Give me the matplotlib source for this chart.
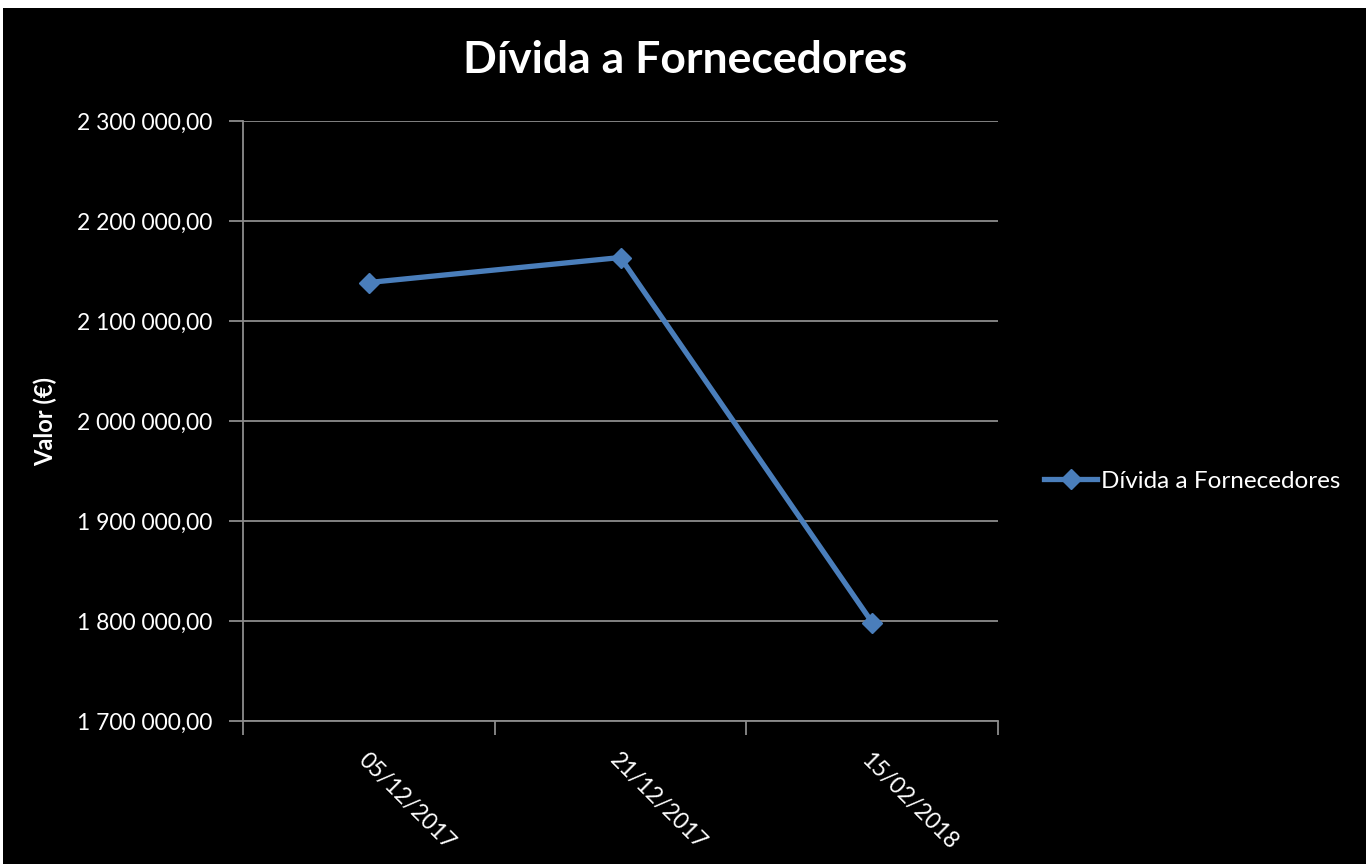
import matplotlib.pyplot as plt
from matplotlib.patches import Rectangle
from matplotlib.lines import Line2D

# Dados
datas = ['05/12/2017', '21/12/2017', '15/02/2018']
valores = [2138500, 2163500, 1798500]
y_ticks = [1700000, 1800000, 1900000, 2000000, 2100000, 2200000, 2300000]

azul = '#4A7EBB'
cinza = '#8c8c8c'
fonte = ['Lato', 'DejaVu Sans']

def formata(v):
    s = f"{v:,.2f}"
    return s.replace(',', ' ').replace('.', ',')

fig = plt.figure(figsize=(13.69, 8.64), dpi=100, facecolor='white')
# fundo preto do gráfico (com margem branca)
fig.patches.append(Rectangle((3 / 1369, 0), 1363 / 1369, 856 / 864,
                             transform=fig.transFigure, facecolor='black',
                             edgecolor='none', zorder=0))

ax = fig.add_axes([243 / 1369, 1 - 721 / 864, 755 / 1369, 600 / 864])
ax.set_zorder(2)
ax.set_facecolor('black')

x = list(range(len(datas)))
ax.plot(x, valores, color=azul, lw=3.8, marker='D', ms=10, zorder=3)

ax.set_xlim(-0.5, len(datas) - 0.5)
ax.set_ylim(y_ticks[0], y_ticks[-1])
ax.set_yticks(y_ticks)
ax.set_yticklabels([formata(v) for v in y_ticks], family=fonte, fontsize=16.5, color='white')
ax.grid(axis='y', color=cinza, lw=1.3)

# marcas entre categorias e rótulos nas categorias
ax.set_xticks([i - 0.5 for i in range(len(datas) + 1)])
ax.set_xticklabels([])
ax.set_xticks(x, minor=True)
ax.set_xticklabels(datas, minor=True, rotation=-45, ha='left', va='top',
                   rotation_mode='anchor', family=fonte, fontsize=16.5, color='white')
ax.tick_params(axis='x', which='minor', length=0, pad=20)
ax.tick_params(axis='both', which='major', color=cinza, length=10, width=1.3)
ax.tick_params(axis='y', pad=12)

for lado in ['top', 'right']:
    ax.spines[lado].set_visible(False)
for lado in ['left', 'bottom']:
    ax.spines[lado].set_color(cinza)
    ax.spines[lado].set_linewidth(1.3)

ax.set_ylabel('Valor (€)', family=fonte, fontsize=17, fontweight='bold', color='white', labelpad=14)
fig.text(685 / 1369, 1 - 60 / 864, 'Dívida a Fornecedores', ha='center', va='center',
         family=fonte, fontsize=32, fontweight='bold', color='white')

handle = Line2D([], [], color=azul, lw=3.8, marker='D', ms=10)
leg = fig.legend([handle], ['Dívida a Fornecedores'], loc='center left',
                 bbox_to_anchor=(1022 / 1369, 1 - 481 / 864), frameon=False,
                 handlelength=2.2, handletextpad=0.15,
                 prop={'family': fonte, 'size': 17.5})
for t in leg.get_texts():
    t.set_color('white')

fig.savefig('out.png', dpi=100, facecolor=fig.get_facecolor())
